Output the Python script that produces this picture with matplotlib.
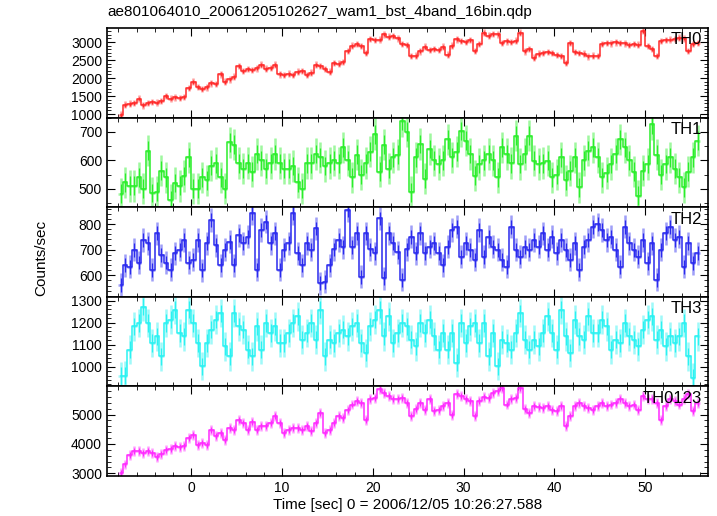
import matplotlib
matplotlib.use('Agg')
import matplotlib.pyplot as plt
import matplotlib.ticker as mticker
import numpy as np

plt.rcParams['font.family'] = ['Liberation Sans', 'DejaVu Sans']

TITLE = 'ae801064010_20061205102627_wam1_bst_4band_16bin.qdp'
XLABEL = 'Time [sec] 0 = 2006/12/05 10:26:27.588'
YLABEL = 'Counts/sec'

# 0.5 s bins, centres from -7.75 to 55.75 s
BIN_START = -7.75
BIN_WIDTH = 0.5

th0 = [980, 1260, 1290, 1310, 1430, 1240, 1300, 1340, 1320, 1360,
       1500, 1430, 1460, 1450, 1480, 1720, 1900, 1750, 1700, 1740,
       1850, 1830, 2100, 1900, 1960, 2040, 2330, 2200, 2250, 2230,
       2270, 2370, 2260, 2280, 2370, 2100, 2080, 2120, 2090, 2180,
       2200, 2090, 2150, 2370, 2330, 2250, 2180, 2420, 2400, 2440,
       2750, 2900, 2940, 2890, 2700, 3080, 3050, 3070, 3210, 3150,
       3170, 3100, 2940, 2920, 2610, 2620, 2740, 2870, 2780, 2800,
       2780, 2870, 2650, 2900, 3075, 3030, 3000, 3050, 2750, 2950,
       3260, 3180, 3220, 3210, 2980, 3020, 3000, 3040, 3260, 2740,
       2800, 2565, 2680, 2700, 2720, 2690, 2640, 2610, 2425, 2980,
       2720, 2700, 2680, 2600, 2620, 2610, 2950, 2980, 2960, 2990,
       2980, 2960, 2920, 2950, 2930, 3300, 2890, 2800, 2610, 3030,
       3050, 3070, 3080, 3120, 3100, 2750, 2950, 2980]

th1 = [483, 523, 510, 510, 540, 500, 634, 485, 490, 563,
       540, 460, 520, 510, 545, 610, 500, 500, 540, 530,
       581, 590, 540, 500, 663, 655, 590, 570, 590, 560,
       622, 600, 570, 590, 622, 590, 570, 570, 580, 523,
       500, 590, 590, 622, 610, 580, 590, 600, 590, 645,
       600, 540, 620, 550, 590, 630, 692, 560, 655, 570,
       610, 620, 738, 700,
       488, 610, 657, 535, 640, 600, 587, 600, 674, 610,
       630, 703, 669, 622, 546, 587, 600, 622, 600, 540,
       645, 622, 590, 686, 587, 622, 686, 599, 587, 590,
       599, 540, 550, 610, 529, 564, 610, 505, 600, 634,
       645, 610, 540, 555, 587, 622, 674, 645, 600, 560,
       476, 564, 587, 727, 620, 550, 587, 610, 570, 540,
       505, 560, 610, 669]

th2 = [563, 640, 634, 699, 650, 738, 725, 621, 764, 679,
       650, 621, 686, 700, 738, 650, 660, 738, 620, 725,
       816, 718, 640, 700, 731, 640, 757, 725, 751, 842,
       621, 777, 809, 725, 764, 621, 700, 725, 842, 686,
       640, 725, 700, 783, 569, 575, 640, 701, 738, 710,
       854, 710, 764, 595, 764, 701, 686, 822, 589, 764,
       725, 690, 582, 701,
       751, 686, 764, 686, 712, 725, 686, 640, 712, 777,
       790, 673, 725, 699, 660, 777, 673, 751, 712, 699,
       660, 634, 790, 699, 673, 712, 699, 738, 712, 764,
       699, 751, 686, 738, 700, 660, 725, 621, 712, 738,
       790, 800, 777, 738, 751, 699, 634, 790, 725, 699,
       673, 738, 647, 725, 582, 700, 764, 790, 738, 751,
       634, 725, 647, 686]

th3 = [958, 960, 1078, 1183, 1198, 1273, 1198, 1108, 1138, 1048,
       1198, 1213, 1258, 1153, 1138, 1258, 1198, 1108, 1003, 1108,
       1168, 1213, 1243, 1093, 1048, 1243, 1183, 1168, 1078, 1048,
       1183, 1078, 1198, 1153, 1183, 1108, 1108, 1153, 1198, 1228,
       1123, 1153, 1198, 1123, 1258, 1048, 1123, 1108, 1153, 1168,
       1138, 1183, 1198, 1108, 1063, 1183, 1213, 1258, 1138, 1228,
       1108, 1153, 1198, 1183,
       1123, 1093, 1198, 1153, 1213, 1138, 1078, 1153, 1078, 1153,
       1018, 1198, 1108, 1183, 1198, 1108, 1198, 1048, 1153, 1003,
       1123, 1108, 1078, 1153, 1243, 1123, 1078, 1123, 1093, 1153,
       1228, 1153, 1078, 1258, 1138, 1063, 1213, 1138, 1123, 1228,
       1153, 1153, 1213, 1183, 1078, 1123, 1108, 1198, 1138, 1123,
       1093, 1168, 1213, 1228, 1123, 1168, 1093, 1138, 1108, 1138,
       1198, 1048, 950, 1138]

th0123 = [3000, 3300, 3630, 3745, 3745, 3687, 3745, 3700, 3572, 3650,
          3800, 3830, 3915, 3880, 3915, 4200, 4315, 3980, 4030, 3950,
          4486, 4258, 4372, 4143, 4550, 4486, 4830, 4714, 4486, 4760,
          4486, 4600, 4600, 4714, 4943, 4714, 4372, 4486, 4540, 4540,
          4486, 4600, 4430, 4714, 5057, 4372, 4486, 4714, 4943, 4900,
          5171, 5343, 5457, 5400, 4830, 5514, 5571, 5857, 5742, 5628,
          5514, 5514, 5571, 5400,
          4943, 5200, 5400, 5171, 5514, 5114, 5171, 5286, 5400, 5000,
          5700, 5628, 5514, 5457, 4943, 5457, 5600, 5571, 5742, 5800,
          5914, 5343, 5514, 5571, 5914, 5200, 5057, 5286, 5250, 5228,
          5286, 5160, 5114, 5286, 4600, 4943, 5286, 5400, 5286, 5228,
          5171, 5286, 5400, 5286, 5343, 5400, 5514, 5400, 5286, 5343,
          5171, 5628, 5514, 5514, 5400, 4830, 5286, 5514, 5457, 5343,
          5514, 5685, 5114, 5400]

names = ['TH0', 'TH1', 'TH2', 'TH3', 'TH0123']
series = [th0, th1, th2, th3, th0123]
errors = [90, 55, 45, 65, 170]
ylims = [(900, 3390), (435, 750), (516, 866), (911, 1317), (2908, 5959)]
major = [500, 100, 100, 100, 1000]
minor = [100, 50, 20, 20, 200]
colors = ['#ff2a2a', '#2aee2a', '#2a2aee', '#2af2f2', '#ff2aff']

fig, axes = plt.subplots(5, 1, figsize=(7.17, 5.16), dpi=100, sharex=True)
fig.subplots_adjust(left=0.1492, right=0.9874, top=0.9457, bottom=0.0775, hspace=0)

for i, ax in enumerate(axes):
    y = np.array(series[i], dtype=float)
    t = BIN_START + BIN_WIDTH * np.arange(len(y))
    # light error bars, then the binned rate as a step line
    ax.errorbar(t, y, xerr=BIN_WIDTH / 2, yerr=errors[i], fmt='none',
                ecolor=colors[i], elinewidth=1.8, alpha=0.45)
    ax.errorbar(t, y, yerr=errors[i] * 0.6, fmt='none',
                ecolor=colors[i], elinewidth=0.9)
    ax.step(t, y, where='mid', color=colors[i], lw=1.1)
    ax.set_ylim(*ylims[i])
    ax.set_xlim(-9.25, 56.9)
    ax.yaxis.set_major_locator(mticker.MultipleLocator(major[i]))
    ax.yaxis.set_minor_locator(mticker.MultipleLocator(minor[i]))
    ax.xaxis.set_major_locator(mticker.MultipleLocator(10))
    ax.xaxis.set_minor_locator(mticker.MultipleLocator(2))
    ax.tick_params(which='both', direction='in', top=True, right=True, labelsize=10)
    ax.tick_params(which='major', length=6, width=0.8)
    ax.tick_params(which='minor', length=3, width=0.6)
    for s in ax.spines.values():
        s.set_linewidth(1.2)
    ax.text(0.99, 0.95, names[i], transform=ax.transAxes, ha='right', va='top', fontsize=12)

axes[-1].set_xlabel(XLABEL, fontsize=11, labelpad=2)
fig.text(0.058, 0.5, YLABEL, rotation=90, ha='center', va='center', fontsize=11)
fig.text(0.1492, 0.977, TITLE, ha='left', va='center', fontsize=11)

plt.savefig('out.png', dpi=100)
